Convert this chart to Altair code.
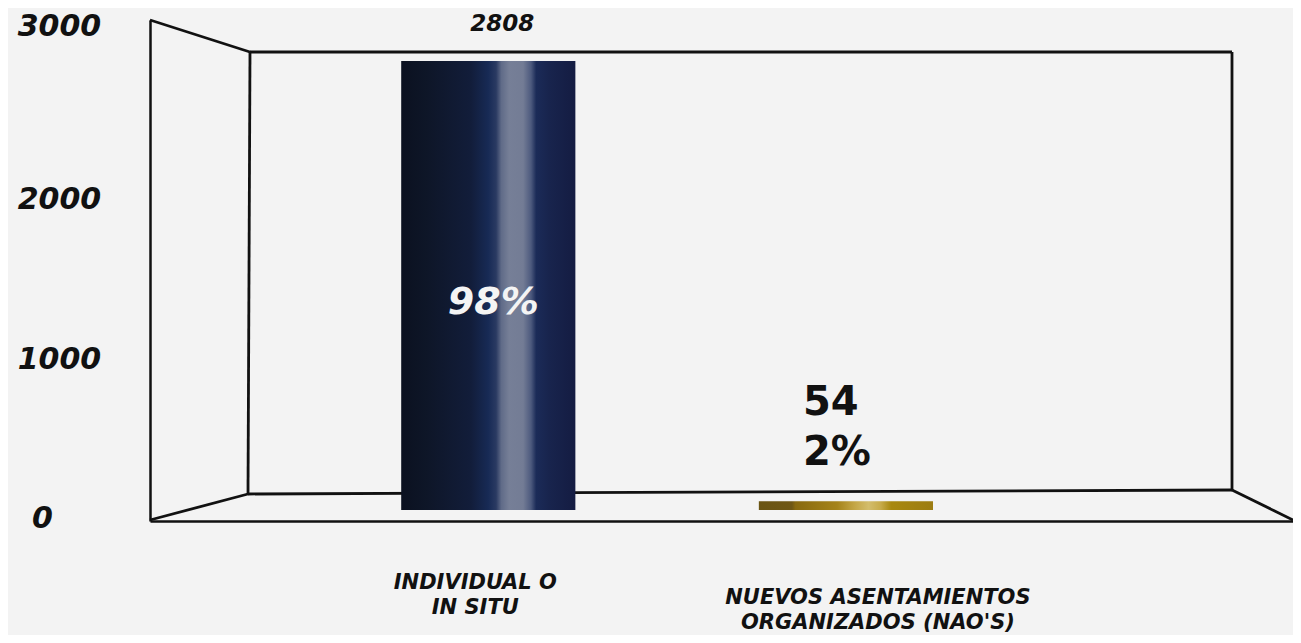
import altair as alt
import pandas as pd

# ---- data ----
categories = ["INDIVIDUAL O|IN SITU", "NUEVOS ASENTAMIENTOS|ORGANIZADOS (NAO'S)"]
values = [2808, 54]
percents = ["98%", "2%"]
y_ticks = [0, 1000, 2000, 3000]

df = pd.DataFrame({"cat": categories, "value": values, "pct": percents})

FONT = "DejaVu Sans"
INK = "#111111"
W, H = 1143, 501

# decorative 3-D frame (plot-area pixel geometry, not data)
FRAME = [
    (0, 0, 100, 32),
    (100, 32, 98, 474),
    (100, 32, 1082, 32),
    (1082, 32, 1082, 470),
    (98, 474, 1082, 470),
    (0, 500, 98, 474),
    (1082, 470, 1143, 500),
]

navy = alt.Gradient(
    gradient="linear", x1=0, x2=1, y1=0, y2=0,
    stops=[
        alt.GradientStop(offset=0.0, color="#0b1120"),
        alt.GradientStop(offset=0.15, color="#0e1628"),
        alt.GradientStop(offset=0.4, color="#121d3a"),
        alt.GradientStop(offset=0.5, color="#172a55"),
        alt.GradientStop(offset=0.545, color="#2a3a62"),
        alt.GradientStop(offset=0.575, color="#606b88"),
        alt.GradientStop(offset=0.62, color="#767f97"),
        alt.GradientStop(offset=0.7, color="#737c95"),
        alt.GradientStop(offset=0.745, color="#4d5a7e"),
        alt.GradientStop(offset=0.775, color="#1b2b58"),
        alt.GradientStop(offset=0.85, color="#18244d"),
        alt.GradientStop(offset=1.0, color="#141c42"),
    ],
)
gold = alt.Gradient(
    gradient="linear", x1=0, x2=1, y1=0, y2=0,
    stops=[
        alt.GradientStop(offset=0.0, color="#6a5413"),
        alt.GradientStop(offset=0.19, color="#6f5714"),
        alt.GradientStop(offset=0.21, color="#88690f"),
        alt.GradientStop(offset=0.45, color="#a5831a"),
        alt.GradientStop(offset=0.55, color="#c4a646"),
        alt.GradientStop(offset=0.63, color="#d3bd6c"),
        alt.GradientStop(offset=0.7, color="#c7ab4a"),
        alt.GradientStop(offset=0.76, color="#a8880f"),
        alt.GradientStop(offset=1.0, color="#9c7c12"),
    ],
)

first_test = f"datum.value == '{categories[0]}'"

x_enc = alt.X(
    "cat:N", sort=categories,
    scale=alt.Scale(paddingInner=0.513, paddingOuter=0.8545, align=0.411),
    axis=alt.Axis(
        title=None, ticks=False, tickSize=0, domain=True, domainColor=INK, domainWidth=2.5,
        labelExpr="split(datum.label, '|')", labelFont=FONT, labelFontSize=21,
        labelFontWeight="bold", labelFontStyle="italic", labelColor=INK,
        labelAlign="center", labelBaseline="top", labelLineHeight=25, labelLimit=0, labelAngle=0,
        labelOffset={"condition": {"test": first_test, "value": -13}, "value": 32},
        labelPadding={"condition": {"test": first_test, "value": 50}, "value": 65},
    ),
)
y_enc = alt.Y(
    "value:Q",
    scale=alt.Scale(domain=[-69, 3064], nice=False),
    axis=alt.Axis(
        title=None, values=y_ticks, grid=False, ticks=False, tickSize=0, format="d",
        domain=True, domainColor=INK, domainWidth=2.5,
        labelFont=FONT, labelFontSize=30, labelFontWeight="bold", labelFontStyle="italic",
        labelColor=INK, labelAlign="center", labelBaseline="middle",
        labelOffset={"condition": {"test": "datum.value == 3000", "value": -4}, "value": 9},
        labelPadding={"condition": {"test": "datum.value == 0", "value": 108}, "value": 91},
    ),
)

one = pd.DataFrame({"k": [0]})
rules = [
    alt.Chart(one).mark_rule(color=INK, strokeWidth=2.8).encode(
        x=alt.value(a), y=alt.value(b), x2=alt.value(c), y2=alt.value(d)
    )
    for (a, b, c, d) in FRAME
]

base = alt.Chart(df).encode(x=x_enc, y=y_enc)
first = base.transform_filter(alt.datum.cat == categories[0])
second = base.transform_filter(alt.datum.cat == categories[1])

bar1 = first.mark_bar(color=navy)
bar2 = second.mark_bar(color=gold)

t_val1 = first.mark_text(font=FONT, fontSize=23, fontWeight="bold", fontStyle="italic",
                         color=INK, dx=14, dy=-37, baseline="middle").encode(text="value:Q")
t_pct1 = first.mark_text(font=FONT, fontSize=38, fontWeight="bold", fontStyle="italic",
                         color="#f4f4f4", dx=5, dy=242, baseline="middle").encode(text="pct:N")
t_val2 = second.mark_text(font=FONT, fontSize=40, fontWeight="bold", color=INK,
                          align="left", baseline="alphabetic", dx=-43, dy=-86).encode(text="value:Q")
t_pct2 = second.mark_text(font=FONT, fontSize=40, fontWeight="bold", color=INK,
                          align="left", baseline="alphabetic", dx=-43, dy=-36).encode(text="pct:N")

chart = alt.layer(*rules, bar1, bar2, t_val1, t_pct1, t_val2, t_pct2).properties(
    width=W, height=H, background="#f3f3f3",
    padding={"left": 142, "top": 12, "right": 0, "bottom": 114},
    autosize=alt.AutoSizeParams(type="none"),
).configure_view(strokeWidth=0)

chart.save("out.html", embed_options={"renderer": "svg", "actions": False})
